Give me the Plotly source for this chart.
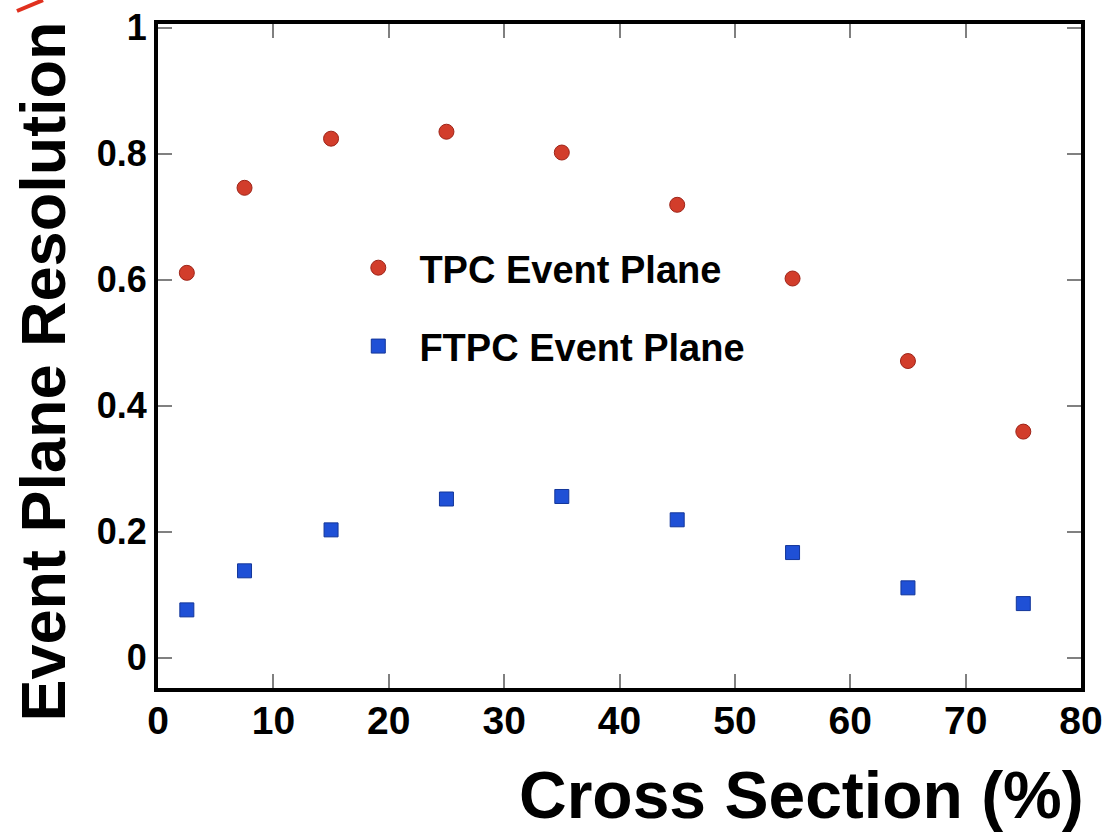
import plotly.graph_objects as go

centrality = [2.5, 7.5, 15, 25, 35, 45, 55, 65, 75]
tpc_resolution = [0.611, 0.746, 0.824, 0.835, 0.802, 0.719, 0.602, 0.471, 0.359]
ftpc_resolution = [0.076, 0.138, 0.203, 0.252, 0.256, 0.219, 0.167, 0.111, 0.086]

x_ticks = [0, 10, 20, 30, 40, 50, 60, 70, 80]
y_ticks = [0, 0.2, 0.4, 0.6, 0.8, 1.0]
y_tick_labels = ["0", "0.2", "0.4", "0.6", "0.8", "1"]

FONT = "Liberation Sans, Arial, Helvetica, sans-serif"
NB = "\u00a0\u00a0"

fig = go.Figure()
fig.add_trace(go.Scatter(
    x=centrality, y=tpc_resolution, mode="markers",
    name=NB + "TPC Event Plane", legendgroup="tpc",
    marker=dict(symbol="circle", size=15, color="#d23d2b",
                line=dict(color="#9e2418", width=1)),
))
fig.add_trace(go.Scatter(
    x=centrality, y=ftpc_resolution, mode="markers",
    name=NB + "FTPC Event Plane", legendgroup="ftpc",
    marker=dict(symbol="square", size=14, color="#1f50d6",
                line=dict(color="#13369a", width=1)),
))

axis_common = dict(
    showline=True, linecolor="black", linewidth=4, mirror="ticks",
    ticks="inside", ticklen=14, tickwidth=2, tickcolor="#808080",
    showgrid=False, zeroline=False, automargin=False,
)

fig.update_layout(
    width=1105, height=832,
    margin=dict(l=158, r=24, t=24, b=144),
    paper_bgcolor="white", plot_bgcolor="white",
    font=dict(family=FONT, color="black"),
    xaxis=dict(range=[0, 80], tickvals=x_ticks, ticktext=[str(v) for v in x_ticks],
               tickfont=dict(family=FONT, size=39, color="black", weight="bold"),
               ticklabelstandoff=-5,
               **axis_common),
    yaxis=dict(range=[-0.048, 1.006], tickvals=y_ticks, ticktext=y_tick_labels,
               tickfont=dict(family=FONT, size=36, color="black", weight="bold"),
               **axis_common),
    showlegend=True,
    legend=dict(
        x=0.217, y=0.680, xanchor="left", yanchor="top",
        bgcolor="rgba(0,0,0,0)", borderwidth=0,
        font=dict(family=FONT, size=38, color="black", weight="bold"),
        tracegroupgap=26, traceorder="grouped",
    ),
    annotations=[
        dict(text="Cross Section (%)", xref="paper", yref="paper",
             x=1.005, y=-0.102, xanchor="right", yanchor="top", showarrow=False,
             font=dict(family=FONT, size=66, color="black", weight="bold")),
        dict(text="Event Plane Resolution", xref="paper", yref="paper",
             x=-0.125, y=0.476, xanchor="center", yanchor="middle", showarrow=False,
             textangle=-90,
             font=dict(family=FONT, size=63, color="black", weight="bold")),
    ],
    shapes=[
        dict(type="line", xref="paper", yref="paper",
             x0=-0.1528, y0=1.0196, x1=-0.1246, y1=1.036,
             line=dict(color="#e0301e", width=4)),
    ],
)

fig.write_html("out.html")
